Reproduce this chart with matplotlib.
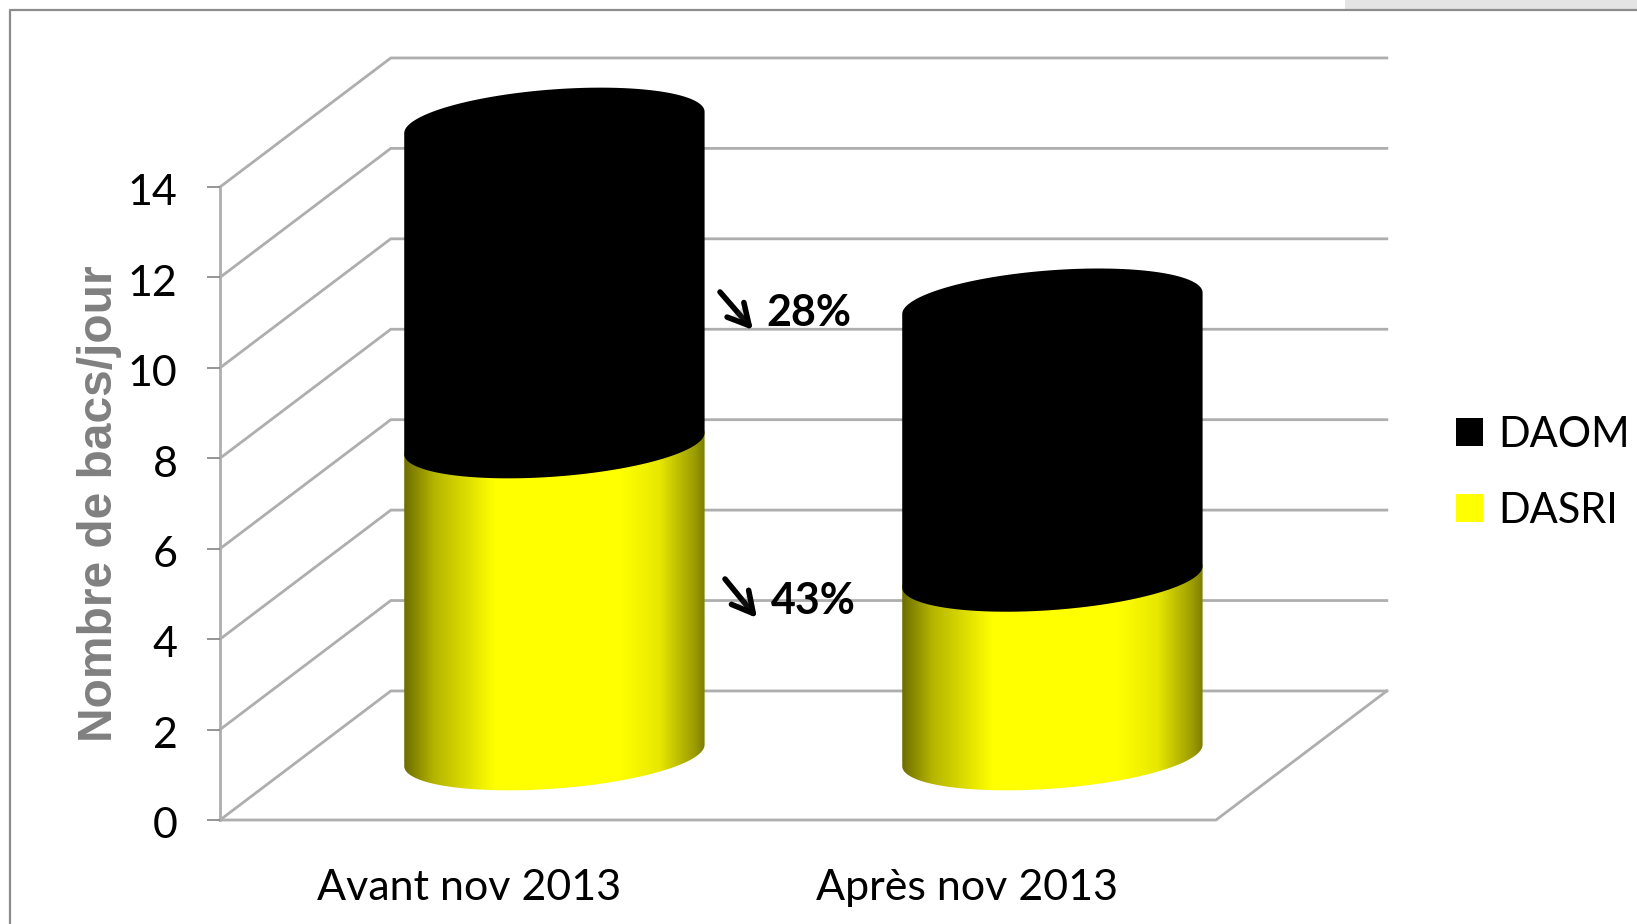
import numpy as np
import matplotlib
matplotlib.use('Agg')
import matplotlib.pyplot as plt
import matplotlib.patheffects as pe
from matplotlib.colors import LinearSegmentedColormap
from matplotlib.lines import Line2D
from matplotlib.patches import Patch, PathPatch, Polygon, Rectangle
from matplotlib.path import Path
from matplotlib.transforms import ScaledTranslation

categories = ['Avant nov 2013', 'Après nov 2013']
dasri = [6.9, 3.95]
daom = [7.1, 6.05]
y_ticks = [0, 2, 4, 6, 8, 10, 12, 14]
drops = ['28%', '43%']

# oblique projection of the 3D box, in data units per unit of depth
DEPTH_X = 0.343
DEPTH_Y = 2.854
# cylinder footprint: half width along x and half extent in depth
RADIUS_X = 0.287
RADIUS_D = 0.27

W, H = 1637, 924
GRID = '#aeaeae'
plt.rcParams['font.family'] = ['Lato', 'DejaVu Sans']

yellow_shade = LinearSegmentedColormap.from_list('yellow_shade', [
    (0.0, '#6e6e00'), (0.1, '#b5b500'), (0.3, '#ffff00'), (0.72, '#ffff00'),
    (0.85, '#e8e800'), (0.97, '#9a9a00'), (1.0, '#7f7f00')])


def capsule(center, low, high):
    # outline of a cylinder section seen from above, between two heights
    t_edge = np.arctan2(RADIUS_D * DEPTH_X, RADIUS_X)
    lower = np.linspace(t_edge - np.pi, t_edge, 80)
    upper = np.linspace(t_edge, t_edge + np.pi, 80)
    pts = []
    for t, level in [(lower, low), (upper, high)]:
        d = 0.5 + RADIUS_D * np.sin(t)
        xs = center + RADIUS_X * np.cos(t) + d * DEPTH_X
        ys = level + d * DEPTH_Y
        pts.append(np.column_stack([xs, ys]))
    return np.vstack(pts)


fig = plt.figure(figsize=(W / 100, H / 100), dpi=100)
ax = fig.add_axes([220 / W, (H - 820) / H, 996 / W, 633 / H])
ax.set_xlim(-0.5, 1.5)
ax.set_ylim(0, 14)
for side in ax.spines.values():
    side.set_visible(False)

# slide frame and the grey strip above it
fig.add_artist(Rectangle((1345 / W, (H - 9) / H), (W - 1345) / W, 9 / H,
                         transform=fig.transFigure, color='#e5e4e4', lw=0))
fig.add_artist(Line2D([9.5 / W, 9.5 / W, 1], [0, (H - 10) / H, (H - 10) / H],
                      transform=fig.transFigure, color='#8c8c8c', lw=1.6))

# walls of the box
x_left, x_right = -0.5, 1.5
for v in y_ticks:
    ax.plot([x_left, x_left + DEPTH_X, x_right + DEPTH_X],
            [v, v + DEPTH_Y, v + DEPTH_Y], color=GRID, lw=2,
            clip_on=False, zorder=1, solid_joinstyle='miter')
ax.plot([x_left, x_left], [0, 14], color=GRID, lw=2, clip_on=False, zorder=1)
ax.plot([x_left, x_right, x_right + DEPTH_X], [0, 0, DEPTH_Y], color=GRID, lw=2,
        clip_on=False, zorder=1)

# stacked cylinders
for i in range(len(categories)):
    total = dasri[i] + daom[i]
    outline = capsule(i, 0, dasri[i])
    half_width = np.hypot(RADIUS_X, RADIUS_D * DEPTH_X)
    left = i - half_width + 0.5 * DEPTH_X
    right = i + half_width + 0.5 * DEPTH_X
    shade = ax.imshow(np.linspace(0, 1, 256).reshape(1, -1), cmap=yellow_shade,
                      extent=[left, right, 0, total + DEPTH_Y], aspect='auto', zorder=3,
                      interpolation='bilinear')
    shade.set_clip_path(Polygon(outline, closed=True, transform=ax.transData))
    ax.add_patch(PathPatch(Path(capsule(i, dasri[i], total)), facecolor='black',
                           edgecolor='none', clip_on=False, zorder=4))
ax.set_xlim(-0.5, 1.5)
ax.set_ylim(0, 14)

ax.set_yticks(y_ticks)
ax.set_xticks(range(len(categories)))
ax.set_xticklabels(categories)
ax.tick_params(axis='y', length=9.5, width=1.3, color='#8c8c8c', labelsize=31, pad=21)
ax.tick_params(axis='x', length=0, labelsize=31, pad=35)
nudge = ScaledTranslation(0, -2 / 72, fig.dpi_scale_trans)
for lab in ax.get_yticklabels():
    lab.set_transform(lab.get_transform() + nudge)
ax.set_ylabel('Nombre de bacs/jour', family='Liberation Sans', fontweight='bold',
              fontsize=34.5, color='#808080', labelpad=4)

# drop annotations between the two periods
arrow_ends = [((720, 292), (753, 330)), ((725, 579), (757, 618))]
text_pos = [(809, 313), (813, 601)]
for label, (start, end), (tx, ty) in zip(drops, arrow_ends, text_pos):
    arrow = ax.annotate('', xy=(end[0], H - end[1]), xytext=(start[0], H - start[1]),
                        xycoords='figure pixels', textcoords='figure pixels', zorder=6,
                        arrowprops=dict(arrowstyle='->,head_length=0.75,head_width=0.4',
                                        color='black', lw=4, shrinkA=0, shrinkB=0,
                                        mutation_scale=20))
    arrow.arrow_patch.set_path_effects([pe.withSimplePatchShadow(offset=(1, -2), alpha=0.2)])
    ax.annotate(label, xy=(tx, H - ty), xycoords='figure pixels', ha='center', va='center',
                fontsize=31, fontweight='bold', color='black', zorder=6)

handles = [Patch(facecolor='black', label='DAOM'), Patch(facecolor='#ffff00', label='DASRI')]
fig.legend(handles=handles, loc='center left', bbox_to_anchor=(1456 / W, (H - 473) / H),
           frameon=False, fontsize=30, handlelength=0.65, handleheight=0.65,
           handletextpad=0.36, labelspacing=0.91, borderpad=0, borderaxespad=0)

fig.savefig('out.png', dpi=100)
plt.close(fig)
